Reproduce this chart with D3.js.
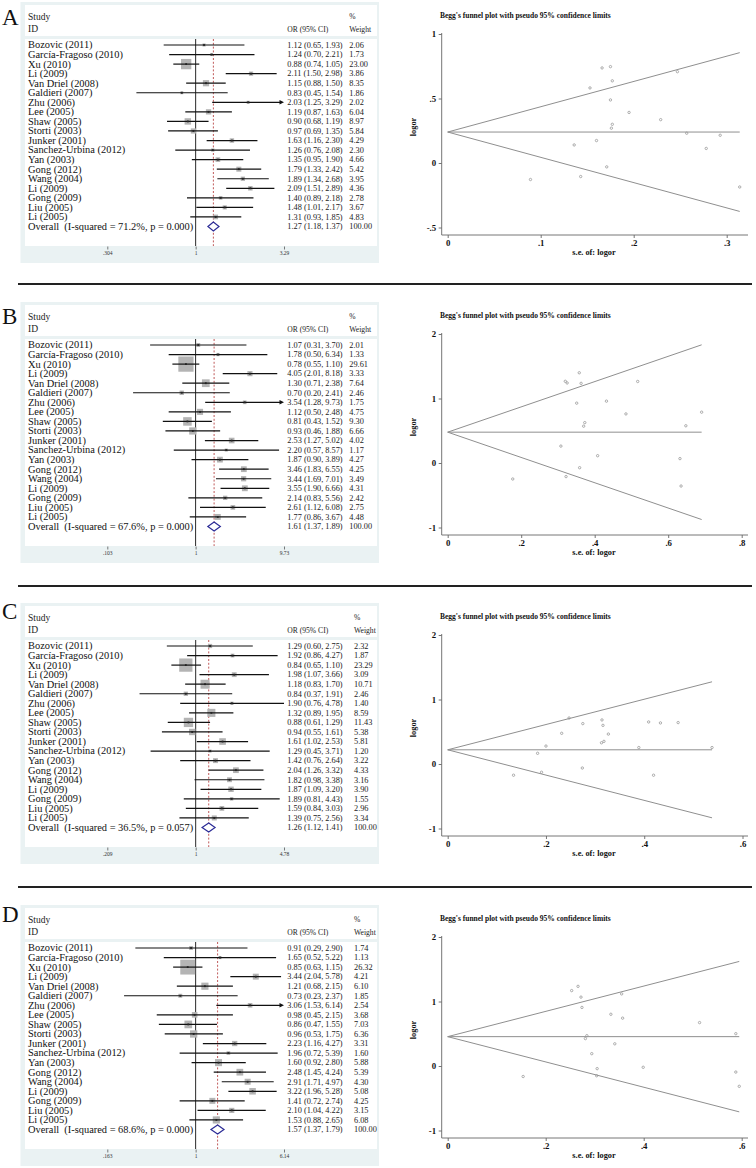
<!DOCTYPE html>
<html><head><meta charset="utf-8">
<script src="https://cdn.jsdelivr.net/npm/d3@7"></script>
<style>body{margin:0;background:#fff}svg{display:block}</style>
</head><body>
<script>
// ---------- DATA ----------
const studies = ["Bozovic (2011)","García-Fragoso (2010)","Xu (2010)","Li (2009)","Van Driel (2008)","Galdieri (2007)","Zhu (2006)","Lee (2005)","Shaw (2005)","Storti (2003)","Junker (2001)","Sanchez-Urbina (2012)","Yan (2003)","Gong (2012)","Wang (2004)","Li (2009)","Gong (2009)","Liu (2005)","Li (2005)"];

// Panel A
const orA = [1.12,1.24,0.88,2.11,1.15,0.83,2.03,1.19,0.90,0.97,1.63,1.26,1.35,1.79,1.89,2.09,1.40,1.48,1.31];
const loA = [0.65,0.70,0.74,1.50,0.88,0.45,1.25,0.87,0.68,0.69,1.16,0.76,0.95,1.33,1.34,1.51,0.89,1.01,0.93];
const hiA = [1.93,2.21,1.05,2.98,1.50,1.54,3.29,1.63,1.19,1.35,2.30,2.08,1.90,2.42,2.68,2.89,2.18,2.17,1.85];
const wA  = [2.06,1.73,23.00,3.86,8.35,1.86,2.02,6.04,8.97,5.84,4.29,2.30,4.66,5.42,3.95,4.36,2.78,3.67,4.83];
const overallA = [1.27,1.18,1.37]; const hetA = ["71.2%","0.000"];
const forestTicksA = [0.304,1,3.29]; const forestTickLabelsA = [".304","1","3.29"];
const arrowsA = ["Zhu (2006)"];
const seA = [0.278,0.293,0.089,0.175,0.136,0.314,0.247,0.160,0.143,0.171,0.175,0.257,0.177,0.153,0.177,0.166,0.229,0.195,0.176];
const logorA = [0.113,0.215,-0.128,0.747,0.140,-0.186,0.708,0.174,-0.105,-0.030,0.489,0.231,0.300,0.582,0.637,0.737,0.336,0.392,0.270];
const pooledA = 0.24;
const funnelXTicksA = [0,0.1,0.2,0.3]; const funnelXLabelsA = ["0",".1",".2",".3"];
const funnelYTicksA = [-0.5,0,0.5,1]; const funnelYLabelsA = ["-.5","0",".5","1"];

// Panel B
const orB = [1.07,1.78,0.78,4.05,1.30,0.70,3.54,1.12,0.81,0.93,2.53,2.20,1.87,3.46,3.44,3.55,2.14,2.61,1.77];
const loB = [0.31,0.50,0.55,2.01,0.71,0.20,1.28,0.50,0.43,0.46,1.27,0.57,0.90,1.83,1.69,1.90,0.83,1.12,0.86];
const hiB = [3.70,6.34,1.10,8.18,2.38,2.41,9.73,2.48,1.52,1.88,5.02,8.57,3.89,6.55,7.01,6.66,5.56,6.08,3.67];
const wB  = [2.01,1.33,29.61,3.33,7.64,2.46,1.75,4.75,9.30,6.66,4.02,1.17,4.27,4.25,3.49,4.31,2.42,2.75,4.48];
const overallB = [1.61,1.37,1.89]; const hetB = ["67.6%","0.000"];
const forestTicksB = [0.103,1,9.73]; const forestTickLabelsB = [".103","1","9.73"];
const arrowsB = ["Zhu (2006)"];
const seB = [0.632,0.648,0.177,0.358,0.308,0.635,0.517,0.408,0.322,0.359,0.351,0.691,0.373,0.325,0.363,0.320,0.485,0.432,0.370];
const logorB = [0.068,0.577,-0.248,1.399,0.262,-0.357,1.264,0.113,-0.211,-0.073,0.928,0.788,0.626,1.241,1.235,1.267,0.761,0.959,0.571];
const pooledB = 0.478;
const funnelXTicksB = [0,0.2,0.4,0.6,0.8]; const funnelXLabelsB = ["0",".2",".4",".6",".8"];
const funnelYTicksB = [-1,0,1,2]; const funnelYLabelsB = ["-1","0","1","2"];

// Panel C
const orC = [1.29,1.92,0.84,1.98,1.18,0.84,1.90,1.32,0.88,0.94,1.61,1.29,1.42,2.04,1.82,1.87,1.89,1.59,1.39];
const loC = [0.60,0.86,0.65,1.07,0.83,0.37,0.76,0.89,0.61,0.55,1.02,0.45,0.76,1.26,0.98,1.09,0.81,0.84,0.75];
const hiC = [2.75,4.27,1.10,3.66,1.70,1.91,4.78,1.95,1.29,1.61,2.53,3.71,2.64,3.32,3.38,3.20,4.43,3.03,2.56];
const wC  = [2.32,1.87,23.29,3.09,10.71,2.46,1.40,8.59,11.43,5.38,5.81,1.20,3.22,4.33,3.16,3.90,1.55,2.96,3.34];
const overallC = [1.26,1.12,1.41]; const hetC = ["36.5%","0.057"];
const forestTicksC = [0.209,1,4.78]; const forestTickLabelsC = [".209","1","4.78"];
const arrowsC = [];
const seC = [0.389,0.409,0.134,0.314,0.183,0.419,0.469,0.200,0.191,0.274,0.232,0.538,0.318,0.247,0.316,0.275,0.433,0.327,0.313];
const logorC = [0.255,0.652,-0.174,0.683,0.166,-0.174,0.642,0.278,-0.128,-0.062,0.476,0.255,0.351,0.713,0.599,0.626,0.637,0.464,0.329];
const pooledC = 0.22;
const funnelXTicksC = [0,0.2,0.4,0.6]; const funnelXLabelsC = ["0",".2",".4",".6"];
const funnelYTicksC = [-1,0,1,2]; const funnelYLabelsC = ["-1","0","1","2"];

// Panel D
const orD = [0.91,1.65,0.85,3.44,1.21,0.73,3.06,0.98,0.86,0.96,2.23,1.96,1.60,2.48,2.91,3.22,1.41,2.10,1.53];
const loD = [0.29,0.52,0.63,2.04,0.68,0.23,1.53,0.45,0.47,0.53,1.16,0.72,0.92,1.45,1.71,1.96,0.72,1.04,0.88];
const hiD = [2.90,5.22,1.15,5.78,2.15,2.37,6.14,2.15,1.55,1.75,4.27,5.39,2.80,4.24,4.97,5.28,2.74,4.22,2.65];
const wD  = [1.74,1.13,26.32,4.21,6.10,1.85,2.54,3.68,7.03,6.36,3.31,1.60,5.88,5.39,4.30,5.08,4.25,3.15,6.08];
const overallD = [1.57,1.37,1.79]; const hetD = ["68.6%","0.000"];
const forestTicksD = [0.163,1,6.14]; const forestTickLabelsD = [".163","1","6.14"];
const arrowsD = ["Zhu (2006)"];
const seD = [0.588,0.588,0.154,0.266,0.294,0.595,0.355,0.399,0.304,0.305,0.333,0.514,0.284,0.274,0.272,0.253,0.341,0.357,0.281];
const logorD = [-0.094,0.501,-0.163,1.235,0.191,-0.315,1.118,-0.020,-0.151,-0.041,0.802,0.673,0.470,0.908,1.068,1.169,0.344,0.742,0.425];
const pooledD = 0.455;
const funnelXTicksD = [0,0.2,0.4,0.6]; const funnelXLabelsD = ["0",".2",".4",".6"];
const funnelYTicksD = [-1,0,1,2]; const funnelYLabelsD = ["-1","0","1","2"];

const panelLetters = ["A","B","C","D"];
const funnelTitle = "Begg's funnel plot with pseudo 95% confidence limits";

// ---------- LAYOUT ----------
const W = 756, H = 1168;
const serif = "'Liberation Serif','Times New Roman',Times,serif";
const panels = [
  {or:orA,lo:loA,hi:hiA,w:wA,ov:overallA,het:hetA,ft:forestTicksA,fl:forestTickLabelsA,arrows:arrowsA,se:seA,lg:logorA,pooled:pooledA,xt:funnelXTicksA,xl:funnelXLabelsA,yt:funnelYTicksA,yl:funnelYLabelsA,
   off:0, letterY:25, sep:284, boxK:2.15, wX:349.3, xEndPx:726.7},
  {or:orB,lo:loB,hi:hiB,w:wB,ov:overallB,het:hetB,ft:forestTicksB,fl:forestTickLabelsB,arrows:arrowsB,se:seB,lg:logorB,pooled:pooledB,xt:funnelXTicksB,xl:funnelXLabelsB,yt:funnelYTicksB,yl:funnelYLabelsB,
   off:300, letterY:23.5, sep:286, boxK:2.8, wX:349.3, xEndPx:741.7},
  {or:orC,lo:loC,hi:hiC,w:wC,ov:overallC,het:hetC,ft:forestTicksC,fl:forestTickLabelsC,arrows:arrowsC,se:seC,lg:logorC,pooled:pooledC,xt:funnelXTicksC,xl:funnelXLabelsC,yt:funnelYTicksC,yl:funnelYLabelsC,
   off:601, letterY:17.5, sep:286, boxK:2.75, wX:354, xEndPx:742.5},
  {or:orD,lo:loD,hi:hiD,w:wD,ov:overallD,het:hetD,ft:forestTicksD,fl:forestTickLabelsD,arrows:arrowsD,se:seD,lg:logorD,pooled:pooledD,xt:funnelXTicksD,xl:funnelXLabelsD,yt:funnelYTicksD,yl:funnelYLabelsD,
   off:903, letterY:18.5, sep:null, boxK:2.9, wX:354, xEndPx:741.7}
];

const svg = d3.select("body").append("svg").attr("width",W).attr("height",H)
  .attr("font-family",serif);

panels.forEach((p,pi)=>{
  const g = svg.append("g").attr("transform",`translate(0,${p.off})`);

  // letter
  g.append("text").attr("x",2).attr("y",p.letterY).attr("font-size",23).attr("fill","#111").text(panelLetters[pi]);

  // ---------- forest plot ----------
  const fg = g.append("g");
  fg.append("rect").attr("x",20.5).attr("y",2).attr("width",358.5).attr("height",261).attr("fill","#eaf2f3");
  fg.append("rect").attr("x",25).attr("y",5).attr("width",352).attr("height",31).attr("fill","#fff");
  fg.append("rect").attr("x",25).attr("y",39).attr("width",352).attr("height",207).attr("fill","#fff");

  fg.append("text").attr("x",28).attr("y",20).attr("font-size",9.5).attr("fill","#222").text("Study");
  fg.append("text").attr("x",28).attr("y",31.5).attr("font-size",9.5).attr("fill","#222").text("ID");
  fg.append("text").attr("x",287.3).attr("y",31.5).attr("font-size",7.6).attr("fill","#222").text("OR (95% CI)");
  fg.append("text").attr("x",p.wX).attr("y",19).attr("font-size",7.6).attr("fill","#222").text("%");
  fg.append("text").attr("x",p.wX).attr("y",31.5).attr("font-size",7.6).attr("fill","#222").text("Weight");

  const x = d3.scaleLog().domain([p.ft[0],p.ft[2]]).range([107.3,284]);
  const y = d3.scaleLinear().domain([0,19]).range([45,226.5]);

  // reference lines
  fg.append("line").attr("x1",x(1)).attr("x2",x(1)).attr("y1",39).attr("y2",246)
    .attr("stroke","#111").attr("stroke-width",0.9);
  fg.append("line").attr("x1",x(p.ov[0])).attr("x2",x(p.ov[0])).attr("y1",39).attr("y2",246)
    .attr("stroke","#b03030").attr("stroke-width",0.8).attr("stroke-dasharray","2,1.8");

  const rows = studies.map((s,i)=>({s,i,or:p.or[i],lo:p.lo[i],hi:p.hi[i],w:p.w[i]}));
  // boxes
  fg.selectAll("rect.box").data(rows).join("rect").attr("class","box")
    .attr("x",d=>x(d.or)-p.boxK*Math.sqrt(d.w)/2)
    .attr("y",d=>y(d.i)-p.boxK*Math.sqrt(d.w)/2)
    .attr("width",d=>p.boxK*Math.sqrt(d.w))
    .attr("height",d=>p.boxK*Math.sqrt(d.w))
    .attr("fill","#b4b4b4");
  // CI lines
  const xmax = p.ft[2];
  fg.selectAll("line.ci").data(rows).join("line").attr("class","ci")
    .attr("x1",d=>x(d.lo))
    .attr("x2",d=>p.arrows.includes(d.s) ? x(Math.min(d.hi,xmax))-3 : x(Math.min(d.hi,xmax)))
    .attr("y1",d=>y(d.i)).attr("y2",d=>y(d.i))
    .attr("stroke","#111").attr("stroke-width",1.2);
  // arrows
  fg.selectAll("path.arrow").data(rows.filter(d=>p.arrows.includes(d.s))).join("path").attr("class","arrow")
    .attr("d",d=>{const xe=x(Math.min(d.hi,xmax)), yy=y(d.i); return `M${xe},${yy}L${xe-4.5},${yy-2.2}L${xe-4.5},${yy+2.2}Z`;})
    .attr("fill","#111");
  // point markers
  fg.selectAll("rect.pt").data(rows).join("rect").attr("class","pt")
    .attr("x",d=>x(d.or)-0.9).attr("y",d=>y(d.i)-0.9).attr("width",1.8).attr("height",1.8)
    .attr("fill","#222");
  // study labels
  fg.selectAll("text.lab").data(rows).join("text").attr("class","lab")
    .attr("x",28).attr("y",d=>y(d.i)+3.4).attr("font-size",10.4).attr("fill","#111").text(d=>d.s);
  fg.selectAll("text.ci").data(rows).join("text").attr("class","ci")
    .attr("x",287.3).attr("y",d=>y(d.i)+2.8).attr("font-size",8.3).attr("fill","#222")
    .text(d=>`${d.or.toFixed(2)} (${d.lo.toFixed(2)}, ${d.hi.toFixed(2)})`);
  fg.selectAll("text.wt").data(rows).join("text").attr("class","wt")
    .attr("x",p.wX).attr("y",d=>y(d.i)+2.8).attr("font-size",8.3).attr("fill","#222")
    .text(d=>d.w.toFixed(2));
  // overall
  const yo = y(19);
  fg.append("text").attr("x",28).attr("y",yo+3.4).attr("font-size",10.4).attr("fill","#111")
    .attr("xml:space","preserve").text(`Overall  (I-squared = ${p.het[0]}, p = ${p.het[1]})`);
  fg.append("path").attr("d",`M${x(p.ov[1])},${yo}L${x(p.ov[0])},${yo-4.5}L${x(p.ov[2])},${yo}L${x(p.ov[0])},${yo+4.5}Z`)
    .attr("fill","#fff").attr("stroke","#2b2b96").attr("stroke-width",1.2);
  fg.append("text").attr("x",287.3).attr("y",yo+2.8).attr("font-size",8.3).attr("fill","#222")
    .text(`${p.ov[0].toFixed(2)} (${p.ov[1].toFixed(2)}, ${p.ov[2].toFixed(2)})`);
  fg.append("text").attr("x",p.wX).attr("y",yo+2.8).attr("font-size",8.3).attr("fill","#222").text("100.00");
  // axis
  const ax = fg.append("g").attr("transform","translate(0,246.5)")
    .call(d3.axisBottom(x).tickValues(p.ft).tickFormat((d,i)=>p.fl[i]).tickSize(3).tickPadding(2));
  ax.select(".domain").remove();
  ax.selectAll("line").attr("stroke","#444").attr("stroke-width",0.7);
  ax.selectAll("text").attr("font-size",5.5).attr("font-family",serif).attr("fill","#333");

  // ---------- funnel plot ----------
  const ug = g.append("g");
  const xs = d3.scaleLinear().domain([0,p.xt[p.xt.length-1]]).range([447.7,p.xEndPx]);
  const ys = d3.scaleLinear().domain([p.yt[0],p.yt[p.yt.length-1]]).range([227.5,34]);
  ug.append("text").attr("x",440).attr("y",17.8).attr("font-size",7.5).attr("font-weight","bold").attr("fill","#111").text(funnelTitle);
  // axes
  ug.append("line").attr("x1",441.7).attr("x2",441.7).attr("y1",33).attr("y2",235).attr("stroke","#666").attr("stroke-width",0.9);
  ug.append("line").attr("x1",441.7).attr("x2",748).attr("y1",235).attr("y2",235).attr("stroke","#666").attr("stroke-width",0.9);
  const yax = ug.append("g").attr("transform","translate(441.7,0)")
    .call(d3.axisLeft(ys).tickValues(p.yt).tickFormat((d,i)=>p.yl[i]).tickSize(3).tickPadding(2.5));
  yax.select(".domain").remove();
  const xax = ug.append("g").attr("transform","translate(0,235)")
    .call(d3.axisBottom(xs).tickValues(p.xt).tickFormat((d,i)=>p.xl[i]).tickSize(3).tickPadding(2));
  xax.select(".domain").remove();
  [yax,xax].forEach(a=>{
    a.selectAll("line").attr("stroke","#666").attr("stroke-width",0.9);
    a.selectAll("text").attr("font-size",8.8).attr("font-weight","bold").attr("font-family",serif).attr("fill","#111");
  });
  ug.append("text").attr("transform","translate(416,127) rotate(-90)").attr("text-anchor","middle")
    .attr("font-size",8.3).attr("font-weight","bold").attr("fill","#111").text("logor");
  ug.append("text").attr("x",594).attr("y",255).attr("text-anchor","middle")
    .attr("font-size",8.3).attr("font-weight","bold").attr("fill","#111").text("s.e. of: logor");
  // pseudo CI lines
  const smax = d3.max(p.se);
  const lineCol = "#8f8f8f";
  [[p.pooled, p.pooled+1.96*smax],[p.pooled,p.pooled],[p.pooled,p.pooled-1.96*smax]].forEach(([a,b])=>{
    ug.append("line").attr("x1",xs(0)).attr("y1",ys(a)).attr("x2",xs(smax)).attr("y2",ys(b))
      .attr("stroke",lineCol).attr("stroke-width",1);
  });
  // points
  ug.selectAll("circle.fp").data(p.se.map((s,i)=>[s,p.lg[i]])).join("circle").attr("class","fp")
    .attr("cx",d=>xs(d[0])).attr("cy",d=>ys(d[1])).attr("r",1.2)
    .attr("fill","none").attr("stroke","#999").attr("stroke-width",0.8);

  // separator
  if(p.sep!==null){
    g.append("line").attr("x1",18).attr("x2",752).attr("y1",p.sep).attr("y2",p.sep)
      .attr("stroke","#222").attr("stroke-width",1.8);
  }
});
</script>
</body></html>
